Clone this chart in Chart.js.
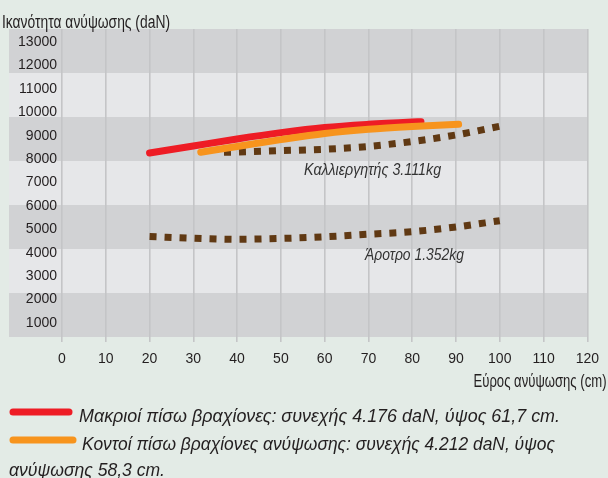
<!DOCTYPE html>
<html><head><meta charset="utf-8">
<script src="https://cdn.jsdelivr.net/npm/chart.js@4/dist/chart.umd.min.js"></script>
<style>
html,body{margin:0;padding:0;background:#e3ebe6;}
#wrap{width:608px;height:478px;position:relative;}
canvas{display:block;}
</style></head><body>
<div id="wrap"><canvas id="c" width="608" height="478"></canvas></div>
<script>
// ---- data ----
const xTicks = [0,10,20,30,40,50,60,70,80,90,100,110,120];
const yTicks = [1000,2000,3000,4000,5000,6000,7000,8000,9000,10000,11000,12000,13000];

const longArmsX = [20,30,40,50,60,70,80,82];
const longArmsY = [8260,8560,8860,9130,9350,9485,9580,9595];

const shortArmsX = [31.7,40,50,60,70,80,90.6];
const shortArmsY = [8290,8540,8830,9090,9270,9390,9485];

const cultivatorX = [37,40,50,60,70,80,90,100];
const cultivatorY = [8290,8300,8360,8420,8540,8750,9030,9400];

const ploughX = [20,30,40,50,60,70,80,90,100];
const ploughY = [4690,4620,4575,4610,4680,4790,4900,5100,5370];

const yTitle = 'Ικανότητα ανύψωσης (daN)';
const xTitle = 'Εύρος ανύψωσης (cm)';
const cultivatorLabel = 'Καλλιεργητής 3.111kg';
const ploughLabel = 'Άροτρο 1.352kg';
const legendLines = [
  'Μακριοί πίσω βραχίονες: συνεχής 4.176 daN, ύψος 61,7 cm.',
  'Κοντοί πίσω βραχίονες ανύψωσης: συνεχής 4.212 daN, ύψος',
  'ανύψωσης 58,3 cm.'
];

// ---- helpers ----
const pts = (xs, ys) => xs.map((x, i) => ({x: x, y: ys[i]}));
const FONT = "'Liberation Sans',Arimo,Roboto,sans-serif";
const RED = '#ee1c25', ORANGE = '#f7941d', BROWN = '#603913';
const BG = '#e3ebe6', DARK = '#d1d2d4', LIGHT = '#e6e7e9', TEXT = '#231f20';

// draw text condensed horizontally so that it spans the given width
function fitText(ctx, text, x, y, width, font, align) {
  ctx.save();
  ctx.font = font;
  const w = ctx.measureText(text).width;
  const sx = width / w;
  const x0 = align === 'right' ? x - width : x;
  ctx.translate(x0, y);
  ctx.scale(sx, 1);
  ctx.textAlign = 'left';
  ctx.fillText(text, 0, 0);
  ctx.restore();
}

const bgPlugin = {
  id: 'bands',
  beforeDraw(chart) {
    const ctx = chart.ctx, a = chart.chartArea;
    ctx.save();
    ctx.fillStyle = BG;
    ctx.fillRect(0, 0, chart.width, chart.height);
    const n = 7, h = (a.bottom - a.top) / n;
    for (let i = 0; i < n; i++) {
      ctx.fillStyle = (i % 2 === 0) ? DARK : LIGHT;
      ctx.fillRect(9, a.top + i * h, a.right - 9, h);
    }
    ctx.restore();
  }
};

const textPlugin = {
  id: 'texts',
  afterDraw(chart) {
    const ctx = chart.ctx, xs = chart.scales.x, ys = chart.scales.y;
    ctx.save();
    ctx.textBaseline = 'alphabetic';
    ctx.fillStyle = TEXT;
    fitText(ctx, yTitle, 2, 27.5, 168, "18px " + FONT, 'left');
    fitText(ctx, xTitle, 606.5, 386.5, 133, "18px " + FONT, 'right');
    // annotations
    ctx.fillStyle = '#333333';
    fitText(ctx, cultivatorLabel, xs.getPixelForValue(55.3), ys.getPixelForValue(7320), 137, "italic 17px " + FONT, 'left');
    fitText(ctx, ploughLabel, xs.getPixelForValue(69.2), ys.getPixelForValue(3690), 99, "italic 17px " + FONT, 'left');
    // legend
    ctx.lineCap = 'round';
    ctx.lineWidth = 7;
    ctx.strokeStyle = RED;
    ctx.beginPath(); ctx.moveTo(13, 412); ctx.lineTo(69, 412); ctx.stroke();
    ctx.strokeStyle = ORANGE;
    ctx.beginPath(); ctx.moveTo(13, 440); ctx.lineTo(73, 440); ctx.stroke();
    ctx.fillStyle = TEXT;
    fitText(ctx, legendLines[0], 79, 422, 481, "italic 18.5px " + FONT, 'left');
    fitText(ctx, legendLines[1], 82, 450, 473, "italic 18.5px " + FONT, 'left');
    fitText(ctx, legendLines[2], 9, 476, 156, "italic 18.5px " + FONT, 'left');
    ctx.restore();
  }
};

new Chart(document.getElementById('c'), {
  type: 'line',
  data: {
    datasets: [
      {label: 'Κοντοί πίσω βραχίονες', data: pts(shortArmsX, shortArmsY), borderColor: ORANGE,
       borderWidth: 7, borderCapStyle: 'round', order: 1},
      {label: 'Μακριοί πίσω βραχίονες', data: pts(longArmsX, longArmsY), borderColor: RED,
       borderWidth: 7, borderCapStyle: 'round', order: 2},
      {label: cultivatorLabel, data: pts(cultivatorX, cultivatorY), borderColor: BROWN,
       borderWidth: 7, borderDash: [7, 8], borderCapStyle: 'butt', order: 3},
      {label: ploughLabel, data: pts(ploughX, ploughY), borderColor: BROWN,
       borderWidth: 7, borderDash: [7, 8], borderCapStyle: 'butt', order: 4}
    ]
  },
  options: {
    responsive: false,
    animation: false,
    devicePixelRatio: 1,
    layout: {padding: {left: 0, right: 17, top: 29, bottom: 111}},
    elements: {point: {radius: 0}, line: {cubicInterpolationMode: 'monotone', fill: false}},
    plugins: {legend: {display: false}, tooltip: {enabled: false}},
    scales: {
      x: {
        type: 'linear', min: 0, max: 120,
        afterBuildTicks: s => { s.ticks = xTicks.map(v => ({value: v})); },
        afterFit: s => { s.height = 30; },
        grid: {color: '#c4c5c7', lineWidth: 1.6, drawTicks: true, tickLength: 5},
        border: {display: false},
        ticks: {font: {family: FONT, size: 14}, color: TEXT, padding: 9, maxRotation: 0,
                callback: v => String(v)}
      },
      y: {
        type: 'linear', min: 402, max: 13555,
        afterBuildTicks: s => { s.ticks = yTicks.map(v => ({value: v})); },
        afterFit: s => { s.width = 62; },
        grid: {display: false, drawTicks: false},
        border: {display: false},
        ticks: {font: {family: FONT, size: 14}, color: TEXT, padding: 5,
                callback: v => String(v)}
      }
    }
  },
  plugins: [bgPlugin, textPlugin]
});
</script>
</body></html>
